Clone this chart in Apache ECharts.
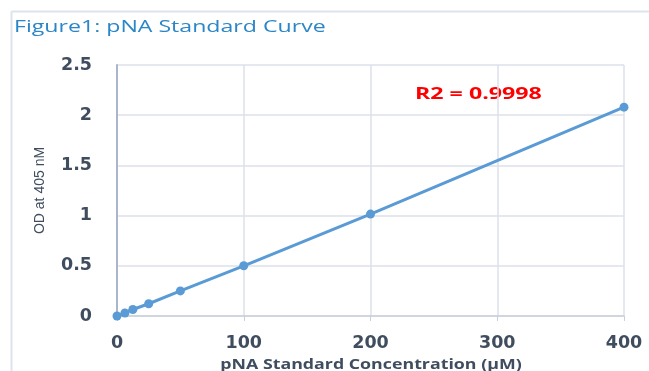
<!DOCTYPE html>
<html><head><meta charset="utf-8">
<script src="https://cdn.jsdelivr.net/npm/echarts@6/dist/echarts.min.js"></script>
<style>html,body{margin:0;padding:0;background:#fff}#c{width:649px;height:371px}</style>
</head><body><div id="c"></div>
<script>
const concentrations = [0, 6.25, 12.5, 25, 50, 100, 200, 400];
const odValues = [0, 0.03, 0.065, 0.122, 0.25, 0.5, 1.015, 2.08];
const xTicks = [0, 100, 200, 300, 400];
const yTicks = [0, 0.5, 1, 1.5, 2, 2.5];
const titleText = 'Figure1: pNA Standard Curve';
const r2Text = 'R2 = 0.9998';
const xName = 'pNA Standard Concentration (\u00b5M)';
const yName = 'OD at 405 nM';

const chart = echarts.init(document.getElementById('c'));
chart.setOption({
  animation: false,
  graphic: [
    {type: 'line', shape: {x1: 11.5, y1: 11.5, x2: 649, y2: 11.5}, style: {stroke: '#dde3ec', lineWidth: 2}},
    {type: 'line', shape: {x1: 11.5, y1: 11.5, x2: 11.5, y2: 371}, style: {stroke: '#dde3ec', lineWidth: 2}},
    {type: 'text', x: 14, y: 19, scaleX: 1.36,
      style: {text: titleText, fill: '#2a86c8', font: '17px "Open Sans"', verticalAlign: 'top'}},
    {type: 'text', x: 415, y: 86, scaleX: 1.45,
      style: {text: r2Text, fill: '#ff0000', font: 'bold 16px "Open Sans"', verticalAlign: 'top'}},
    {type: 'text', x: 371, y: 358, scaleX: 1.27,
      style: {text: xName, fill: '#404d5e', font: 'bold 14px "Open Sans"', align: 'center', verticalAlign: 'top'}}
  ],
  grid: {left: 117, right: 25, top: 65, bottom: 55},
  xAxis: {
    type: 'value', min: 0, max: 400, interval: 100,
    axisLine: {show: true, lineStyle: {color: '#c9d0dc', width: 1.5}},
    axisTick: {show: true, length: 5, lineStyle: {color: '#c9d0dc'}},
    axisLabel: {color: '#404d5e', fontFamily: 'DejaVu Sans', fontWeight: 'bold', fontSize: 17.5, margin: 18},
    splitLine: {show: true, lineStyle: {color: '#dde2ea', width: 1.5}}
  },
  yAxis: {
    type: 'value', min: 0, max: 2.5, interval: 0.5,
    name: yName, nameLocation: 'middle', nameGap: 70,
    nameTextStyle: {color: '#404d5e', fontFamily: 'Liberation Sans Narrow, Liberation Sans', fontSize: 14},
    axisLine: {show: true, lineStyle: {color: '#a9b6c9', width: 2}},
    axisTick: {show: false},
    axisLabel: {color: '#404d5e', fontFamily: 'DejaVu Sans', fontWeight: 'bold', fontSize: 17.5, margin: 25},
    splitLine: {show: true, lineStyle: {color: '#dde2ea', width: 1.5}}
  },
  series: [{
    type: 'line',
    data: concentrations.map((c, i) => [c, odValues[i]]),
    symbol: 'circle', symbolSize: 9,
    lineStyle: {color: '#5b9bd5', width: 3},
    itemStyle: {color: '#5b9bd5'}
  }]
});
</script></body></html>
